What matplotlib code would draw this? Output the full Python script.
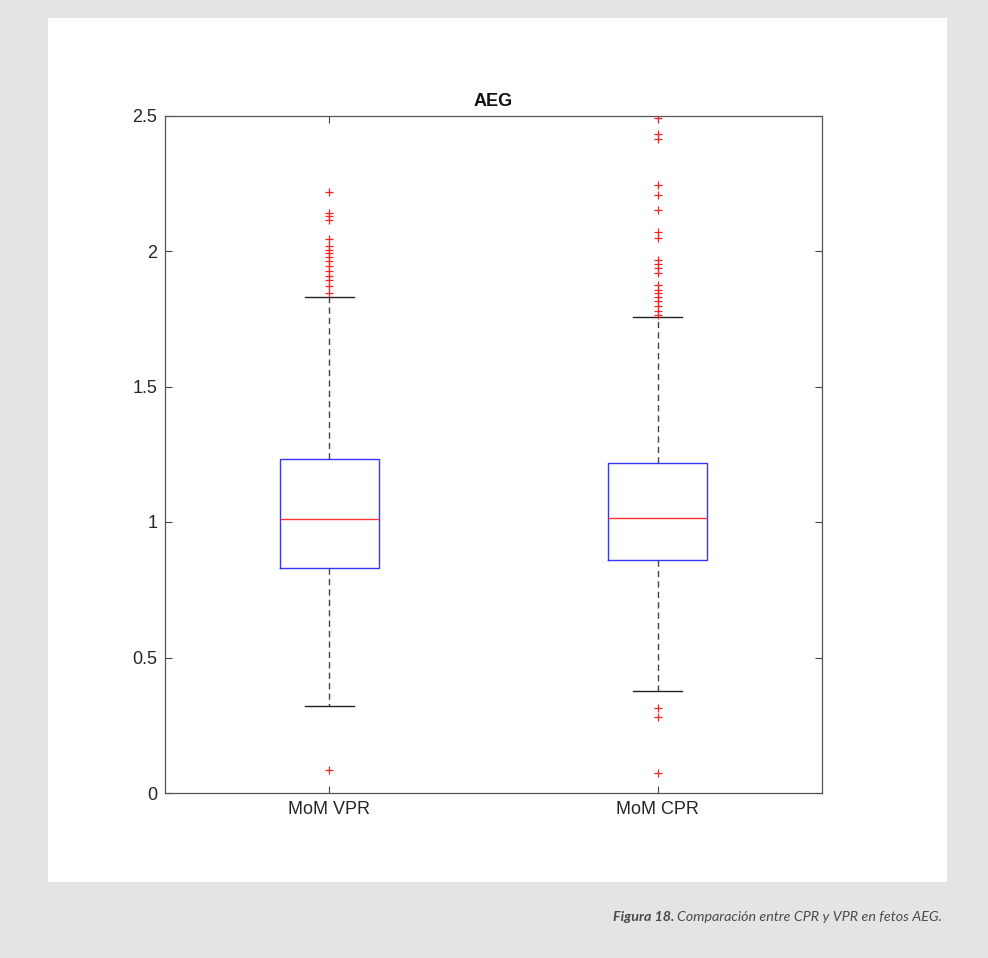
import matplotlib
matplotlib.use('Agg')
import matplotlib.pyplot as plt
from matplotlib.patches import Rectangle

# box statistics
labels = ['MoM VPR', 'MoM CPR']
q1 = [0.83, 0.86]
med = [1.012, 1.016]
q3 = [1.233, 1.219]
whislo = [0.322, 0.376]
whishi = [1.830, 1.757]
fliers_vpr = [2.218, 2.14, 2.13, 2.116, 2.045, 2.02, 2.005, 1.993, 1.978, 1.962,
              1.944, 1.925, 1.909, 1.894, 1.870, 1.845, 0.085]
fliers_cpr = [2.491, 2.432, 2.414, 2.245, 2.208, 2.153, 2.069, 2.048, 1.968, 1.953,
              1.938, 1.919, 1.876, 1.857, 1.845, 1.830, 1.814, 1.796, 1.777, 1.765,
              0.313, 0.280, 0.073]
yticks = [0, 0.5, 1, 1.5, 2, 2.5]
ytick_names = ['0', '0.5', '1', '1.5', '2', '2.5']

plt.rcParams['font.family'] = ['Liberation Sans', 'DejaVu Sans']

fig = plt.figure(figsize=(9.88, 9.58), dpi=100)
fig.patch.set_facecolor('#e3e4e3')
fig.patches.append(Rectangle((48/988, 1-882/958), (947-48)/988, (882-18)/958,
                             transform=fig.transFigure, facecolor='white',
                             edgecolor='none', zorder=-5))

ax = fig.add_axes([165/988, 1-793/958, (822-165)/988, (793-115.5)/958])
ax.set_zorder(2)

stats = []
for i, fl in enumerate([fliers_vpr, fliers_cpr]):
	stats.append(dict(label=labels[i], q1=q1[i], med=med[i], q3=q3[i],
	                  whislo=whislo[i], whishi=whishi[i], fliers=fl))

ax.bxp(stats, positions=[1, 2], widths=0.3,
       boxprops=dict(color='#3535ff', linewidth=1.0),
       medianprops=dict(color='#ff3535', linewidth=1.0),
       whiskerprops=dict(color='#444444', linewidth=1.0, linestyle=(0, (4.5, 3))),
       capprops=dict(color='#222222', linewidth=1.0),
       capwidths=0.15,
       flierprops=dict(marker='+', markeredgecolor='#ff2020', markersize=6,
                       markeredgewidth=0.9, linestyle='none'))

ax.set_xlim(0.5, 2.5)
ax.set_ylim(0, 2.5)
ax.set_xticks([1, 2])
ax.set_xticklabels(labels)
ax.set_yticks(yticks)
ax.set_yticklabels(ytick_names)
ax.tick_params(direction='in', length=5, width=0.8, color='#444444',
               labelsize=13, labelcolor='#262626',
               top=True, right=True, pad=5.5)
for s in ax.spines.values():
	s.set_color('#555555')
	s.set_linewidth(0.9)
ax.set_title('AEG', fontsize=13, fontweight='bold', color='#111111', pad=7)

# caption, right aligned, two parts
cap_y = 1 - 921/958
t2 = fig.text(942/988, cap_y, 'Comparación entre CPR y VPR en fetos AEG.',
              ha='right', va='baseline', fontsize=10.3, style='italic',
              color='#4a4a4a', family=['Lato', 'DejaVu Sans'])
fig.canvas.draw()
bb = t2.get_window_extent()
fig.text((bb.x0 - 3)/988, cap_y, 'Figura 18.', ha='right', va='baseline',
         fontsize=10.3, style='italic', fontweight='bold', color='#4a4a4a',
         family=['Lato', 'DejaVu Sans'])

fig.savefig('out.png', dpi=100, facecolor=fig.get_facecolor())
